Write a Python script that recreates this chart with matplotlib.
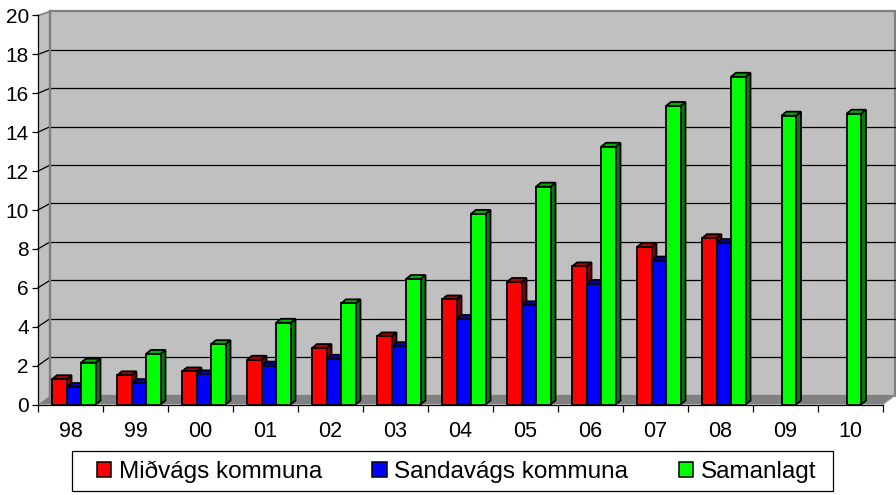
import matplotlib
matplotlib.use("Agg")
import matplotlib.pyplot as plt
from matplotlib.patches import Polygon, Rectangle, Patch
import numpy as np

# ---------------- data ----------------
categories = ["98", "99", "00", "01", "02", "03", "04", "05", "06", "07", "08", "09", "10"]
midvags = [1.3, 1.5, 1.7, 2.3, 2.9, 3.5, 5.4, 6.3, 7.1, 8.1, 8.55, np.nan, np.nan]
sandavags = [0.9, 1.1, 1.55, 2.0, 2.35, 3.0, 4.4, 5.1, 6.2, 7.4, 8.3, np.nan, np.nan]
samanlagt = [2.15, 2.6, 3.1, 4.2, 5.2, 6.45, 9.8, 11.2, 13.25, 15.35, 16.85, 14.85, 14.95]
series_names = ["Miðvágs kommuna", "Sandavágs kommuna", "Samanlagt"]
y_ticks = [0, 2, 4, 6, 8, 10, 12, 14, 16, 18, 20]

# ---------------- style ----------------
plt.rcParams["font.family"] = ["Liberation Sans", "DejaVu Sans"]
W, H, DPI = 896, 495, 100
front_cols = ["#FF0000", "#0000FF", "#00FF00"]
top_cols = ["#B00000", "#0000B0", "#00B000"]
side_cols = ["#800000", "#000080", "#008000"]
wall_col = "#C0C0C0"
floor_col = "#808080"

fig = plt.figure(figsize=(W / DPI, H / DPI), dpi=DPI)
fig.patch.set_facecolor("white")

# axes geometry in pixels
ax_left_px, ax_right_px = 38, 883
ax_bottom_px = 404.5
px_per_unit = 19.45
ymax = 20
ax_top_px = ax_bottom_px - px_per_unit * ymax
ax = fig.add_axes([ax_left_px / W, 1 - ax_bottom_px / H,
                   (ax_right_px - ax_left_px) / W, (ax_bottom_px - ax_top_px) / H])
n_cat = len(categories)
ax.set_xlim(0, n_cat)
ax.set_ylim(0, ymax)
ax.patch.set_visible(False)

px_x = (ax_right_px - ax_left_px) / n_cat  # pixels per category
# depth offsets (walls)
dxw = 12 / px_x
back_scale = 19.2 / px_per_unit
back_off = 9.0 / px_per_unit


def back(v):
    return back_off + back_scale * v


# floor
floor = Polygon([(0, 0), (n_cat, 0), (n_cat + dxw, back(0)), (dxw, back(0))],
                closed=True, facecolor=floor_col, edgecolor="none", zorder=1, clip_on=False)
ax.add_patch(floor)
ax.plot([n_cat, n_cat + dxw], [0, back(0)], color="#A0A0A0", lw=0.8, zorder=1.1, clip_on=False)

# side wall
side = Polygon([(0, 0), (0, ymax), (dxw, back(ymax)), (dxw, back(0))],
               closed=True, facecolor=wall_col, edgecolor="none", zorder=0.5, clip_on=False)
ax.add_patch(side)
# back wall
wall = Polygon([(dxw, back(0)), (n_cat + dxw, back(0)), (n_cat + dxw, back(ymax)), (dxw, back(ymax))],
               closed=True, facecolor=wall_col, edgecolor="#808080", lw=1.6, zorder=0.6, clip_on=False)
ax.add_patch(wall)
ax.plot([0, dxw], [ymax, back(ymax)], color="#808080", lw=1.2, zorder=0.7, clip_on=False)

# gridlines
for v in y_ticks[1:-1]:
    ax.plot([dxw, n_cat + dxw], [back(v), back(v)], color="#000000", lw=0.9, zorder=0.8, clip_on=False)
    ax.plot([0, dxw], [v, back(v)], color="#000000", lw=0.9, zorder=0.8, clip_on=False)
ax.plot([dxw, dxw], [back(0), back(ymax)], color="#808080", lw=1.6, zorder=0.9, clip_on=False)

# bars
bar_w = 14.5 / px_x
dbx = 5 / px_x
dby = 4 / px_per_unit
center_shift = 0.55
series = [midvags, sandavags, samanlagt]
edge_lw = 1.3
z = 2.0
for i in range(n_cat):
    present = [s for s in range(3) if not np.isnan(series[s][i])]
    start = i + center_shift - len(present) * bar_w / 2
    for k, s in enumerate(present):
        h = series[s][i]
        x0 = start + k * bar_w
        sidep = Polygon([(x0 + bar_w, 0), (x0 + bar_w + dbx, dby), (x0 + bar_w + dbx, h + dby), (x0 + bar_w, h)],
                        closed=True, facecolor=side_cols[s], edgecolor="black", lw=edge_lw, zorder=z,
                        joinstyle="miter")
        ax.add_patch(sidep)
        topp = Polygon([(x0, h), (x0 + dbx, h + dby), (x0 + bar_w + dbx, h + dby), (x0 + bar_w, h)],
                       closed=True, facecolor=top_cols[s], edgecolor="black", lw=edge_lw, zorder=z + 0.01,
                       joinstyle="miter")
        ax.add_patch(topp)
        ax.bar(x0, h, width=bar_w, align="edge", color=front_cols[s], edgecolor="black",
               linewidth=edge_lw, zorder=z + 0.02)
        z += 0.1

# axes / ticks
for sp in ["top", "right"]:
    ax.spines[sp].set_visible(False)
ax.spines["left"].set_color("black")
ax.spines["bottom"].set_color("black")
ax.spines["left"].set_linewidth(0.9)
ax.spines["bottom"].set_linewidth(0.9)
ax.spines["left"].set_zorder(50)
ax.spines["bottom"].set_zorder(50)

ax.set_yticks(y_ticks)
ax.set_yticklabels([str(v) for v in y_ticks], fontsize=15)
ax.tick_params(axis="y", length=4, width=0.9, pad=2.5, colors="black")

ax.set_xticks(np.arange(0, n_cat + 1))
ax.set_xticklabels([])
ax.set_xticks(np.arange(n_cat) + 0.5, minor=True)
ax.set_xticklabels(categories, minor=True, fontsize=15.5)
ax.tick_params(axis="x", which="major", length=5, width=0.9, colors="black")
ax.tick_params(axis="x", which="minor", length=0, pad=12)

# legend
handles = [Patch(facecolor=c, edgecolor="black", linewidth=1.1) for c in front_cols]
leg = fig.legend(handles, series_names, ncol=3, loc="center",
                 bbox_to_anchor=(456.5 / W, 1 - 472 / H),
                 frameon=False, prop={"size": 17.5},
                 handlelength=0.6, handleheight=0.6, handletextpad=0.3,
                 columnspacing=2.08, borderpad=0.0, borderaxespad=0.0)
frame = Rectangle((72 / W, 1 - 491 / H), (833 - 72) / W, (491 - 451) / H,
                  transform=fig.transFigure, facecolor="white", edgecolor="black",
                  lw=0.9, zorder=-1)
fig.patches.append(frame)

fig.savefig("out.png", dpi=DPI, facecolor="white")
